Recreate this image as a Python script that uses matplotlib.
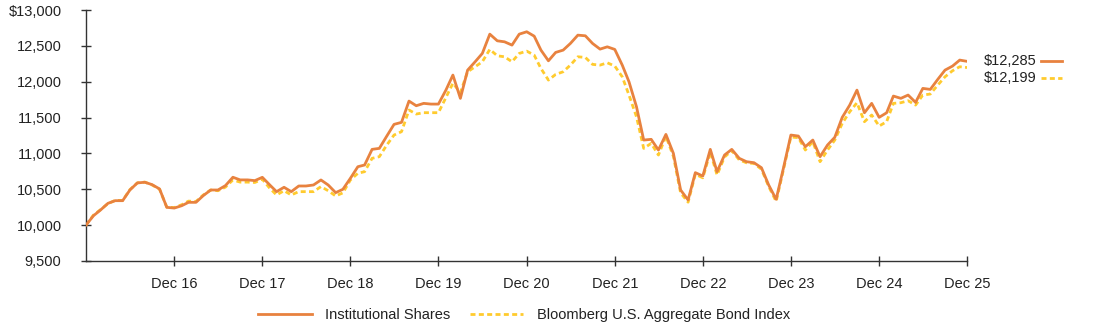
import pandas as pd
import matplotlib
matplotlib.use('Agg')
import matplotlib.pyplot as plt
from matplotlib.lines import Line2D
from matplotlib.ticker import FuncFormatter

# --- data (growth of $10,000, monthly, Dec 2015 - Dec 2025) ---
dates = pd.date_range('2015-12-31', periods=121, freq='ME')

fund_name = 'Institutional Shares'
index_name = 'Bloomberg U.S. Aggregate Bond Index'

fund = [
    10000, 10131, 10210, 10304, 10341, 10341, 10490, 10589, 10598, 10565, 10505, 10248,
    10238, 10271, 10318, 10318, 10411, 10490, 10490, 10551, 10668, 10631, 10631, 10621,
    10667, 10560, 10467, 10528, 10467, 10546, 10546, 10560, 10630, 10560, 10453, 10500,
    10653, 10815, 10839, 11057, 11071, 11243, 11406, 11434, 11731, 11666, 11699, 11689,
    11689, 11884, 12094, 11769, 12163, 12279, 12396, 12665, 12572, 12558, 12512, 12665,
    12698, 12637, 12442, 12293, 12410, 12442, 12535, 12651, 12642, 12535, 12456, 12488,
    12452, 12233, 12000, 11652, 11187, 11197, 11048, 11266, 11001, 10490, 10351, 10732,
    10685, 11057, 10746, 10978, 11057, 10932, 10885, 10871, 10801, 10560, 10360, 10793,
    11257, 11243, 11094, 11187, 10955, 11118, 11225, 11504, 11675, 11884, 11568, 11699,
    11504, 11568, 11801, 11769, 11815, 11713, 11908, 11894, 12034, 12163, 12219, 12303,
    12285,
]

index = [
    10000, 10140, 10215, 10300, 10345, 10345, 10495, 10590, 10600, 10560, 10500, 10250,
    10245, 10285, 10335, 10330, 10420, 10490, 10480, 10530, 10630, 10600, 10600, 10595,
    10640, 10514, 10421, 10480, 10421, 10467, 10467, 10467, 10537, 10480, 10407, 10450,
    10630, 10723, 10746, 10932, 10955, 11118, 11257, 11304, 11606, 11550, 11569, 11569,
    11569, 11780, 11980, 11850, 12140, 12210, 12280, 12452, 12363, 12349, 12280, 12396,
    12428, 12372, 12186, 12024, 12103, 12140, 12233, 12349, 12340, 12243, 12233, 12265,
    12220, 12070, 11815, 11512, 11071, 11141, 10978, 11240, 10960, 10450, 10320, 10710,
    10660, 11020, 10700, 10950, 11040, 10910, 10870, 10860, 10780, 10540, 10330, 10770,
    11230, 11220, 11048, 11164, 10885, 11048, 11187, 11420, 11582, 11708, 11443, 11536,
    11383, 11443, 11699, 11708, 11736, 11675, 11815, 11829, 11954, 12070, 12154, 12210,
    12199,
]

y_ticks = [9500, 10000, 10500, 11000, 11500, 12000, 12500, 13000]

# --- style ---
ORANGE = '#E8823F'
YELLOW = '#FFCB2E'
TEXT = '#222222'
FS = 10.5
DASH = (0, (1.8, 1.2))

plt.rcParams['font.family'] = ['Liberation Sans', 'DejaVu Sans']

fig = plt.figure(figsize=(10.94, 3.27), dpi=100)
ax = fig.add_axes([0.0786, 0.202, 0.8055, 0.767])

ax.plot(dates, fund, color=ORANGE, lw=2.0, label=fund_name, zorder=3)
ax.plot(dates, index, color=YELLOW, lw=2.0, ls=DASH, label=index_name, zorder=2)

ax.set_xlim(dates[0], dates[-1])
ax.set_ylim(y_ticks[0], y_ticks[-1])

dec_ticks = [d for d in dates if d.month == 12][1:]
ax.set_xticks(dec_ticks)
ax.set_xticklabels([d.strftime('Dec %y') for d in dec_ticks])
ax.set_yticks(y_ticks)
ax.yaxis.set_major_formatter(FuncFormatter(
    lambda v, p: f'${v:,.0f}' if v == y_ticks[-1] else f'{v:,.0f}'))

for s in ['top', 'right']:
    ax.spines[s].set_visible(False)
for s in ['left', 'bottom']:
    ax.spines[s].set_color('#333333')
    ax.spines[s].set_linewidth(1.0)
ax.tick_params(axis='both', direction='inout', length=7.2, width=1.0, color='#333333',
               labelsize=FS, labelcolor=TEXT)
ax.tick_params(axis='y', pad=14)
ax.tick_params(axis='x', pad=8)

# --- end-value labels with short line keys ---
fig.canvas.draw()
inv = fig.transFigure.inverted()
px = 1.0 / fig.bbox.width
py = 1.0 / fig.bbox.height
end_x, fy = inv.transform(ax.transData.transform((matplotlib.dates.date2num(dates[-1]), fund[-1])))
label_y = [fy, fy - 17 * py]
for val, ly, col, style in [(fund[-1], label_y[0], ORANGE, '-'),
                            (index[-1], label_y[1], YELLOW, DASH)]:
    fig.text(end_x + 69 * px, ly, f'${val:,}', ha='right', va='center',
             fontsize=FS, color=TEXT)
    fig.add_artist(Line2D([end_x + 74 * px, end_x + 95 * px], [ly, ly],
                          transform=fig.transFigure, color=col, lw=2.0, ls=style))

leg = fig.legend(loc='center', bbox_to_anchor=(0.479, 0.037), ncol=2, frameon=False,
                 fontsize=FS, handlelength=3.7, handletextpad=0.9, columnspacing=1.3)
for t in leg.get_texts():
    t.set_color(TEXT)

fig.savefig('out.png', dpi=100)
